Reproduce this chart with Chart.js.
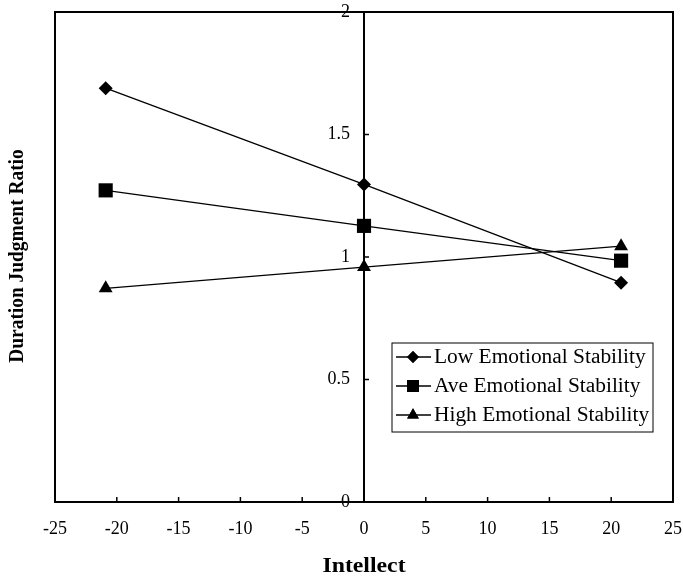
<!DOCTYPE html>
<html>
<head>
<meta charset="utf-8">
<script src="https://cdn.jsdelivr.net/npm/chart.js@4.4.6/dist/chart.umd.min.js"></script>
<style>
  html, body { margin: 0; padding: 0; background: #fff; }
  #wrap { width: 683px; height: 581px; position: relative; }
</style>
</head>
<body>
<div id="wrap"><canvas id="chart" width="683" height="581"></canvas></div>
<script>
// Duration judgment ratio vs intellect, by emotional stability level.

const intellect = [-20.9, 0, 20.8];
const lowStability = [1.689, 1.296, 0.895];
const aveStability = [1.272, 1.127, 0.985];
const highStability = [0.872, 0.959, 1.044];

const xTicks = [-25, -20, -15, -10, -5, 0, 5, 10, 15, 20, 25];
const yTicks = [0, 0.5, 1, 1.5, 2];

const seriesNames = ["Low Emotional Stability", "Ave Emotional Stability", "High Emotional Stability"];

const FONT = '"Liberation Serif", "Times New Roman", serif';

function pts(ys) {
  return intellect.map((x, i) => ({ x, y: ys[i] }));
}

function series(label, ys, style, radius) {
  return {
    label,
    data: pts(ys),
    showLine: true,
    borderColor: "#000",
    backgroundColor: "#000",
    borderWidth: 1.3,
    pointStyle: style,
    pointRadius: radius,
    pointHoverRadius: radius,
    pointBackgroundColor: "#000",
    pointBorderColor: "#000",
    pointBorderWidth: 0,
  };
}

// text stretched horizontally (the scan is a bit wide)
function wideText(ctx, str, x, y, sx) {
  ctx.save();
  ctx.translate(x, y);
  ctx.scale(sx, 1);
  ctx.fillText(str, 0, 0);
  ctx.restore();
}

// Draws frame, the y-axis at x = 0, ticks, labels, titles and the boxed legend.
const decorations = {
  id: "decorations",
  afterDraw(chart) {
    const { ctx, chartArea: a, scales: { x, y } } = chart;
    const x0 = x.getPixelForValue(0);
    ctx.save();
    ctx.strokeStyle = "#000";
    ctx.fillStyle = "#000";

    // frame
    ctx.lineWidth = 2;
    ctx.strokeRect(a.left, a.top, a.right - a.left, a.bottom - a.top);

    // y axis through x = 0
    ctx.beginPath();
    ctx.moveTo(x0, a.top);
    ctx.lineTo(x0, a.bottom);
    ctx.stroke();

    // x ticks (inward) + labels
    ctx.lineWidth = 1.5;
    ctx.font = `18px ${FONT}`;
    ctx.textAlign = "center";
    ctx.textBaseline = "middle";
    for (const v of xTicks) {
      const px = x.getPixelForValue(v);
      ctx.beginPath();
      ctx.moveTo(px, a.bottom);
      ctx.lineTo(px, a.bottom - 5);
      ctx.stroke();
      ctx.fillText(String(v), px, a.bottom + 27);
    }

    // y ticks (to the right of the axis) + labels on the left
    ctx.textAlign = "right";
    for (const v of yTicks) {
      const py = y.getPixelForValue(v);
      ctx.beginPath();
      ctx.moveTo(x0, py);
      ctx.lineTo(x0 + 5, py);
      ctx.stroke();
      ctx.fillText(String(v), x0 - 14, py);
    }

    // axis titles
    ctx.font = `bold 22px ${FONT}`;
    ctx.textAlign = "center";
    wideText(ctx, "Intellect", x0, 566, 1.08);
    ctx.font = `bold 20px ${FONT}`;
    ctx.save();
    ctx.translate(17, 256);
    ctx.rotate(-Math.PI / 2);
    ctx.scale(0.97, 1.1);
    ctx.fillText("Duration Judgment Ratio", 0, 0);
    ctx.restore();

    // legend box
    const lx = 392, ly = 343, lw = 261, lh = 89;
    ctx.lineWidth = 1;
    ctx.strokeRect(lx, ly, lw, lh);
    ctx.font = `20px ${FONT}`;
    ctx.textAlign = "left";
    chart.data.datasets.forEach((ds, i) => {
      const cy = ly + 14 + i * 29;
      ctx.lineWidth = 1.3;
      ctx.beginPath();
      ctx.moveTo(lx + 4, cy);
      ctx.lineTo(lx + 39, cy);
      ctx.stroke();
      Chart.helpers.drawPoint(ctx, {
        pointStyle: ds.pointStyle,
        radius: ds.pointRadius * 0.85,
        borderWidth: 0,
        rotation: 0,
      }, lx + 21, cy);
      ctx.fill();
      wideText(ctx, ds.label, lx + 42, cy + 1, 1.07);
    });
    ctx.restore();
  },
};

new Chart(document.getElementById("chart"), {
  type: "scatter",
  data: {
    datasets: [
      series(seriesNames[0], lowStability, "rectRot", 7),
      series(seriesNames[1], aveStability, "rect", 10),
      series(seriesNames[2], highStability, "triangle", 8),
    ],
  },
  options: {
    responsive: false,
    animation: false,
    layout: { padding: { left: 55, right: 6, top: 12, bottom: 79 } },
    scales: {
      x: { type: "linear", min: -25, max: 25, display: false },
      y: { type: "linear", min: 0, max: 2, display: false },
    },
    plugins: {
      legend: { display: false },
      tooltip: { enabled: false },
    },
  },
  plugins: [decorations],
});
</script>
</body>
</html>
